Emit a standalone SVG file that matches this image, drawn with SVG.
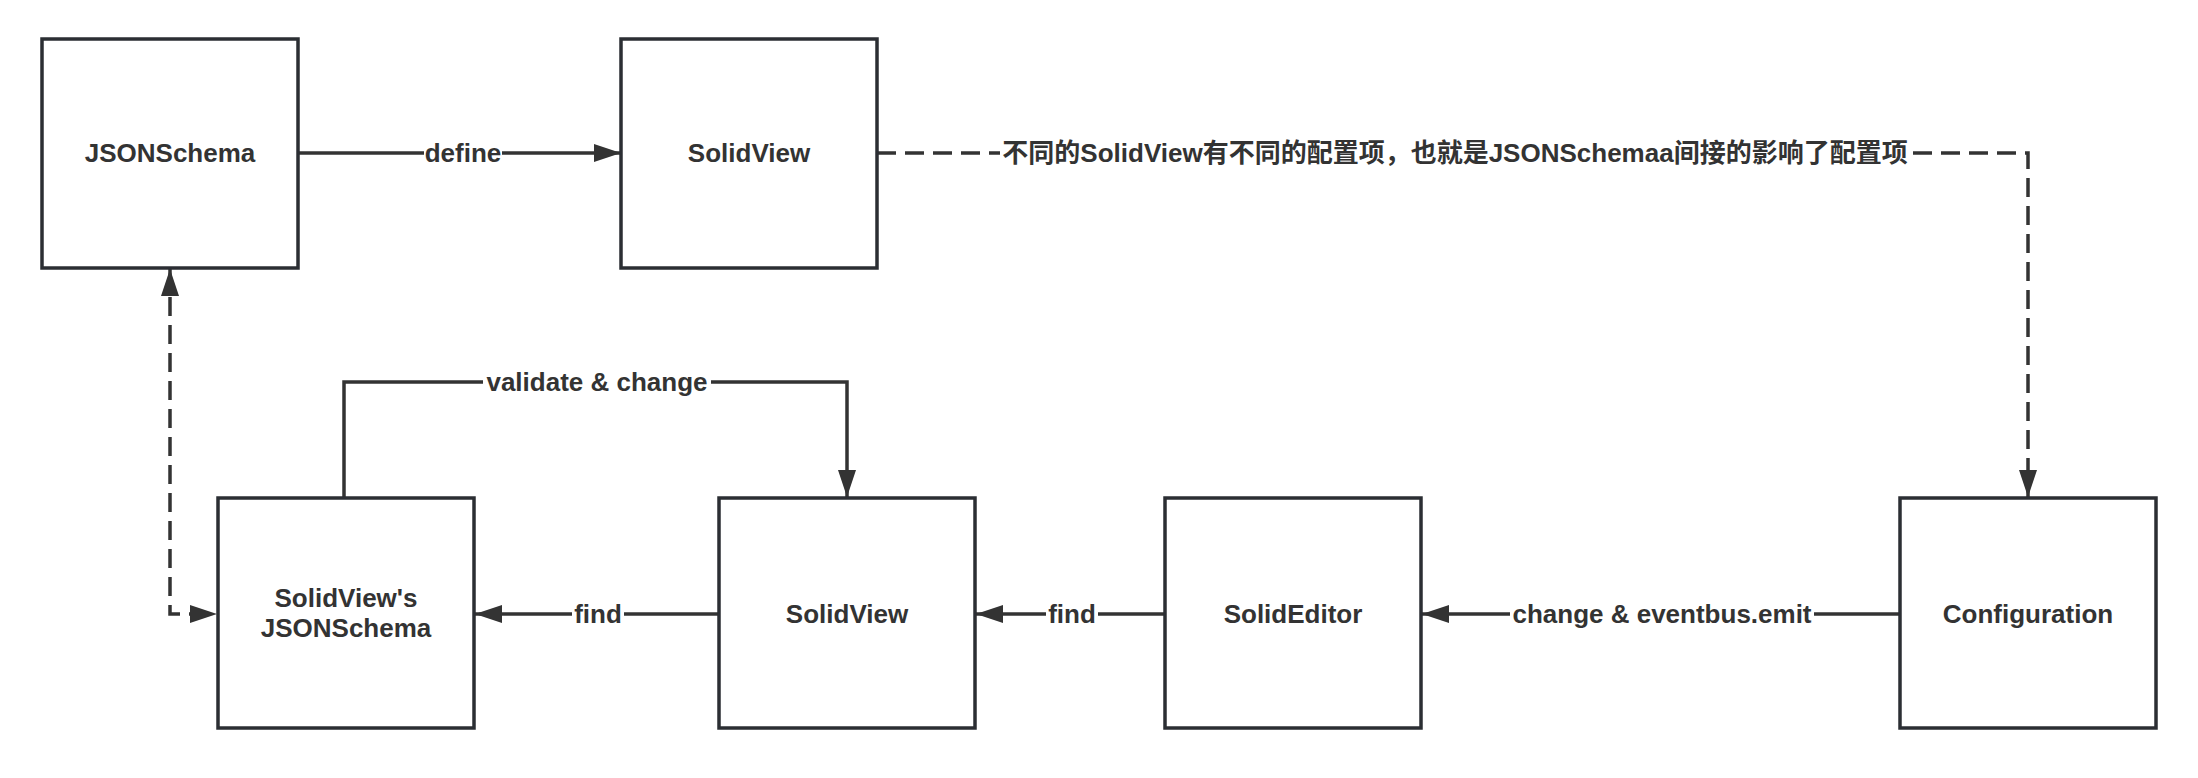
<svg xmlns="http://www.w3.org/2000/svg" width="2198" height="778" viewBox="0 0 2198 778">
<defs>
<style>
.node rect{fill:#ffffff;stroke:#2b2e33;stroke-width:3.5}
text{font-family:"Liberation Sans",Arial,"Noto Sans CJK SC",sans-serif;font-weight:bold;font-size:26px;fill:#333333;text-anchor:middle}
.edge{fill:none;stroke:#333333;stroke-width:3.5}
.dash{stroke-dasharray:19 9}
.bg{fill:#ffffff;stroke:none}
</style>
<marker id="arr" markerUnits="userSpaceOnUse" markerWidth="28" markerHeight="18" refX="27" refY="9" orient="auto-start-reverse" viewBox="0 0 28 18">
<path d="M0,0 L27,9 L0,18 z" fill="#333333"/>
</marker>
</defs>
<rect width="2198" height="778" fill="#ffffff"/>
<g id="connectors">
<path class="edge" d="M298,153 L621,153" marker-end="url(#arr)"/>
<rect class="bg" x="424" y="138" width="78" height="30"/>
<text x="463" y="162">define</text>
<path class="edge dash" d="M877,153 L2028,153 L2028,497" marker-end="url(#arr)"/>
<rect class="bg" x="1000" y="136" width="910" height="34"/>
<text x="1455" y="162">不同的SolidView有不同的配置项，也就是JSONSchemaa间接的影响了配置项</text>
<path class="edge dash" d="M170,269 L170,614 L217,614" marker-start="url(#arr)" marker-end="url(#arr)"/>
<path class="edge" d="M344,497 L344,382 L847,382 L847,497" marker-end="url(#arr)"/>
<rect class="bg" x="483" y="367" width="228" height="32"/>
<text x="597" y="391">validate &amp; change</text>
<path class="edge" d="M719,614 L475,614" marker-end="url(#arr)"/>
<rect class="bg" x="572" y="599" width="52" height="32"/>
<text x="598" y="623">find</text>
<path class="edge" d="M1165,614 L976,614" marker-end="url(#arr)"/>
<rect class="bg" x="1046" y="599" width="52" height="32"/>
<text x="1072" y="623">find</text>
<path class="edge" d="M1900,614 L1422,614" marker-end="url(#arr)"/>
<rect class="bg" x="1510" y="599" width="304" height="32"/>
<text x="1662" y="623">change &amp; eventbus.emit</text>
</g>
<g id="node-jsonschema" class="node">
<rect x="42" y="39" width="256" height="229"/>
<text x="170" y="162">JSONSchema</text>
</g>
<g id="node-solidview-top" class="node">
<rect x="621" y="39" width="256" height="229"/>
<text x="749" y="162">SolidView</text>
</g>
<g id="node-solidview-jsonschema" class="node">
<rect x="218" y="498" width="256" height="230"/>
<text x="346" y="607">SolidView's</text>
<text x="346" y="637">JSONSchema</text>
</g>
<g id="node-solidview" class="node">
<rect x="719" y="498" width="256" height="230"/>
<text x="847" y="623">SolidView</text>
</g>
<g id="node-solideditor" class="node">
<rect x="1165" y="498" width="256" height="230"/>
<text x="1293" y="623">SolidEditor</text>
</g>
<g id="node-configuration" class="node">
<rect x="1900" y="498" width="256" height="230"/>
<text x="2028" y="623">Configuration</text>
</g>
</svg>
